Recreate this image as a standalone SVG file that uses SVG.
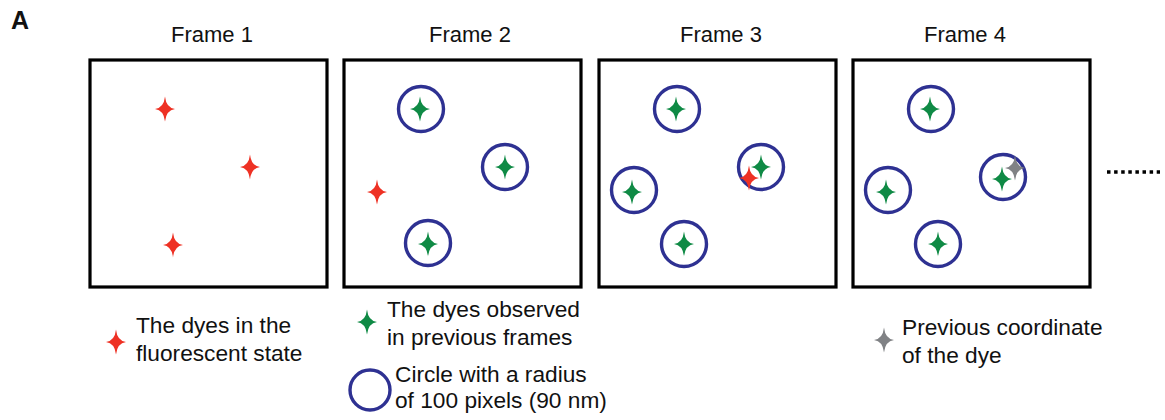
<svg xmlns="http://www.w3.org/2000/svg" width="1165" height="420" viewBox="0 0 1165 420">
<style>
text{font-family:"Liberation Sans",Arial,sans-serif;font-size:22px;fill:#111}
.leg{font-size:22.7px}
.title{text-anchor:middle}
.frame{fill:none;stroke:#000;stroke-width:3.2}
.ring{fill:none;stroke:#2e3192;stroke-width:3.4}
.red{fill:#ee3124}
.green{fill:#0f8a45}
.gray{fill:#808285}
</style>
<defs>
<path id="star" d="M0,-12.5 Q1.2,-1.2 10,0 Q1.2,1.2 0,12.5 Q-1.2,1.2 -10,0 Q-1.2,-1.2 0,-12.5 Z"/>
</defs>
<rect width="1165" height="420" fill="#fff"/>
<text x="11" y="29" style="font-weight:bold;font-size:25px">A</text>

<g id="frame1">
<text class="title" x="212" y="42">Frame 1</text>
<rect class="frame" x="90" y="60" width="237" height="227"/>
<use href="#star" class="red" x="165" y="109"/>
<use href="#star" class="red" x="250" y="167"/>
<use href="#star" class="red" x="173" y="245"/>
</g>

<g id="frame2">
<text class="title" x="470" y="42">Frame 2</text>
<rect class="frame" x="344" y="60" width="237" height="227"/>
<circle class="ring" cx="421" cy="109" r="22.5"/>
<circle class="ring" cx="505" cy="167" r="22.5"/>
<circle class="ring" cx="428" cy="243" r="22.5"/>
<use href="#star" class="green" x="420" y="109"/>
<use href="#star" class="green" x="505" y="167"/>
<use href="#star" class="green" x="428" y="244"/>
<use href="#star" class="red" x="377" y="192"/>
</g>

<g id="frame3">
<text class="title" x="721" y="42">Frame 3</text>
<rect class="frame" x="599" y="60" width="237" height="227"/>
<circle class="ring" cx="677" cy="109" r="22.5"/>
<circle class="ring" cx="761" cy="167" r="22.5"/>
<circle class="ring" cx="634" cy="190" r="22.5"/>
<circle class="ring" cx="684" cy="244" r="22.5"/>
<use href="#star" class="green" x="676" y="109"/>
<use href="#star" class="green" x="761" y="167"/>
<use href="#star" class="green" x="632" y="192"/>
<use href="#star" class="green" x="684" y="244"/>
<use href="#star" class="red" x="749" y="178"/>
</g>

<g id="frame4">
<text class="title" x="965" y="42">Frame 4</text>
<rect class="frame" x="853" y="60" width="237" height="227"/>
<circle class="ring" cx="931" cy="109" r="22.5"/>
<circle class="ring" cx="1003" cy="177" r="22.5"/>
<circle class="ring" cx="888" cy="190" r="22.5"/>
<circle class="ring" cx="938" cy="244" r="22.5"/>
<use href="#star" class="green" x="930" y="109"/>
<use href="#star" class="gray" x="1015" y="168"/>
<use href="#star" class="green" x="1002" y="179"/>
<use href="#star" class="green" x="886" y="192"/>
<use href="#star" class="green" x="938" y="244"/>
</g>

<g id="connectors">
<line x1="1107" y1="172" x2="1160" y2="172" stroke="#000" stroke-width="3.5" stroke-dasharray="3.5 3.6"/>
</g>

<g id="legend-red">
<use href="#star" class="red" x="116" y="342"/>
<text class="leg" x="136" y="333">The dyes in the</text>
<text class="leg" x="136" y="361">fluorescent state</text>
</g>
<g id="legend-green">
<use href="#star" class="green" x="367" y="322"/>
<text class="leg" x="387" y="317">The dyes observed</text>
<text class="leg" x="387" y="345">in previous frames</text>
</g>
<g id="legend-circle">
<circle class="ring" cx="370" cy="390" r="20"/>
<text class="leg" x="395" y="382">Circle with a radius</text>
<text class="leg" x="395" y="408">of 100 pixels (90 nm)</text>
</g>
<g id="legend-gray">
<use href="#star" class="gray" x="884" y="340"/>
<text class="leg" x="902" y="335">Previous coordinate</text>
<text class="leg" x="902" y="363">of the dye</text>
</g>
</svg>
